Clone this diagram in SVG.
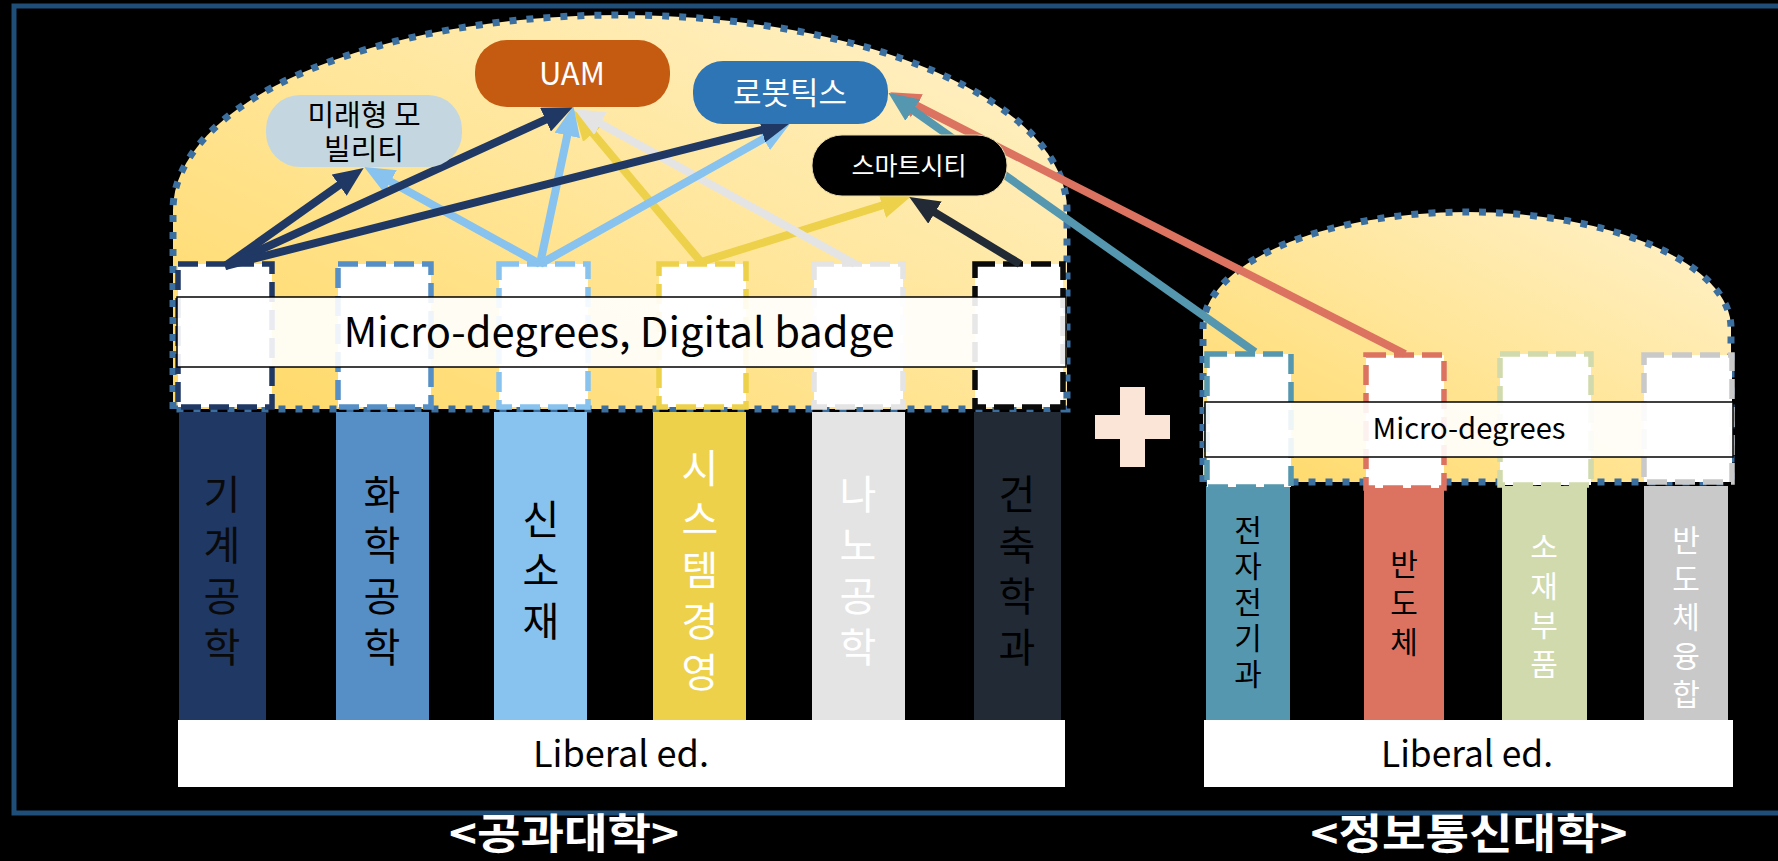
<svg xmlns="http://www.w3.org/2000/svg" width="1778" height="861" viewBox="0 0 1778 861">
<defs>
<linearGradient id="domeGrad" x1="0" y1="1" x2="1" y2="0">
<stop offset="0" stop-color="#FFD966"/>
<stop offset="1" stop-color="#FFF2CC"/>
</linearGradient>
<marker id="mNavy" markerUnits="userSpaceOnUse" markerWidth="30" markerHeight="26" refX="8" refY="13" orient="auto"><path d="M0,0 L30,13 L0,26 Z" fill="#203864"/></marker>
<marker id="mLB" markerUnits="userSpaceOnUse" markerWidth="30" markerHeight="26" refX="8" refY="13" orient="auto"><path d="M0,0 L30,13 L0,26 Z" fill="#88C2EE"/></marker>
<marker id="mYel" markerUnits="userSpaceOnUse" markerWidth="30" markerHeight="26" refX="8" refY="13" orient="auto"><path d="M0,0 L30,13 L0,26 Z" fill="#EDD14A"/></marker>
<marker id="mGray" markerUnits="userSpaceOnUse" markerWidth="30" markerHeight="26" refX="8" refY="13" orient="auto"><path d="M0,0 L30,13 L0,26 Z" fill="#E4E4E4"/></marker>
<marker id="mDark" markerUnits="userSpaceOnUse" markerWidth="30" markerHeight="26" refX="8" refY="13" orient="auto"><path d="M0,0 L30,13 L0,26 Z" fill="#222A35"/></marker>
<marker id="mTeal" markerUnits="userSpaceOnUse" markerWidth="30" markerHeight="26" refX="8" refY="13" orient="auto"><path d="M0,0 L30,13 L0,26 Z" fill="#5497AE"/></marker>
<marker id="mRed" markerUnits="userSpaceOnUse" markerWidth="30" markerHeight="26" refX="8" refY="13" orient="auto"><path d="M0,0 L30,13 L0,26 Z" fill="#DC7361"/></marker>
</defs>
<style>
text { font-family: "Noto Sans CJK KR", "Noto Sans", sans-serif; }
.dome { fill: url(#domeGrad); stroke: #3B6FA0; stroke-width: 7; stroke-dasharray: 7 10; }
.box { fill: #FFFFFF; stroke-width: 5.5; stroke-dasharray: 20 8; }
.band { fill: #FFFFFF; fill-opacity: 0.9; stroke: #000000; stroke-width: 1.5; }
.lib { fill: #FFFFFF; }
.vt { writing-mode: vertical-rl; text-anchor: middle; }
.ct { font-size: 40px; letter-spacing: 11px; }
.cr { font-size: 30px; }
.arr { fill: none; stroke-width: 8; }
.lbl { font-size: 36px; text-anchor: middle; fill: #000; }
.title { font-size: 42px; font-weight: bold; text-anchor: middle; fill: #FFFFFF; }
.node text { text-anchor: middle; }
</style>
<rect x="0" y="0" width="1778" height="861" fill="#000000"/>
<rect x="14" y="6" width="1800" height="807" fill="none" stroke="#1F4E79" stroke-width="5"/>

<g id="dome-left"><path class="dome" d="M173,409 V210 A447,195 0 0 1 1067,210 V409 Z"/></g>
<g id="dome-right"><path class="dome" d="M1203,482 V328 A264,116 0 0 1 1731,328 V482 Z"/></g>

<g id="col-mech">
<rect x="179" y="412" width="87" height="308" fill="#203864"/>
<rect class="box" x="178" y="264" width="94" height="143" stroke="#203864"/>
<text class="vt ct" x="222" y="575.5" fill="#0A0A0A">기계공학</text>
</g>
<g id="col-chem">
<rect x="336" y="412" width="93" height="308" fill="#568FC6"/>
<rect class="box" x="338" y="264" width="93" height="143" stroke="#568FC6"/>
<text class="vt ct" x="382" y="575.5" fill="#000">화학공학</text>
</g>
<g id="col-mat">
<rect x="494" y="412" width="93" height="308" fill="#88C2EE"/>
<rect class="box" x="499" y="264" width="89" height="143" stroke="#88C2EE"/>
<text class="vt ct" x="541" y="575" fill="#000">신소재</text>
</g>
<g id="col-sys">
<rect x="653" y="412" width="93" height="308" fill="#EDD14A"/>
<rect class="box" x="659" y="264" width="87" height="143" stroke="#EDD14A"/>
<text class="vt ct" x="700" y="575.5" fill="#FFFFFF">시스템경영</text>
</g>
<g id="col-nano">
<rect x="812" y="412" width="93" height="308" fill="#E4E4E4"/>
<rect class="box" x="814" y="264" width="89" height="143" stroke="#E4E4E4"/>
<text class="vt ct" x="858" y="575.5" fill="#FFFFFF">나노공학</text>
</g>
<g id="col-arch">
<rect x="974" y="412" width="87" height="308" fill="#222A35"/>
<rect class="box" x="975" y="264" width="88" height="143" stroke="#0A0A0A"/>
<text class="vt ct" x="1017" y="575.5" fill="#000">건축학과</text>
</g>

<g id="col-ee">
<rect x="1206" y="486" width="84" height="234" fill="#5497AE"/>
<rect class="box" x="1207" y="354" width="84" height="133" stroke="#5497AE"/>
<text class="vt cr" x="1248" y="605" letter-spacing="6" fill="#000">전자전기과</text>
</g>
<g id="col-semi">
<rect x="1364" y="486" width="80" height="234" fill="#DC7361"/>
<rect class="box" x="1366" y="355" width="78" height="133" stroke="#DC7361"/>
<text class="vt cr" x="1404" y="607.5" letter-spacing="9" fill="#000">반도체</text>
</g>
<g id="col-parts">
<rect x="1502" y="486" width="85" height="234" fill="#D0DAAC"/>
<rect class="box" x="1500" y="354" width="91" height="131" stroke="#D0DAAC"/>
<text class="vt cr" x="1544" y="609.5" letter-spacing="9" fill="#FFFFFF">소재부품</text>
</g>
<g id="col-semicon">
<rect x="1644" y="486" width="84" height="234" fill="#C9C9C9"/>
<rect class="box" x="1644" y="355" width="88" height="127" stroke="#C9C9C9"/>
<text class="vt cr" x="1686" y="621" letter-spacing="8.5" fill="#FFFFFF">반도체융합</text>
</g>

<g id="band-left">
<rect class="band" x="177" y="297" width="889" height="70"/>
<text x="619" y="347" font-size="41" text-anchor="middle" fill="#000" textLength="551" lengthAdjust="spacingAndGlyphs">Micro-degrees, Digital badge</text>
</g>
<g id="band-right">
<rect class="band" x="1205" y="402" width="528" height="55"/>
<text x="1469" y="439" font-size="29" text-anchor="middle" fill="#000" textLength="193" lengthAdjust="spacingAndGlyphs">Micro-degrees</text>
</g>

<g id="liberal-left">
<rect class="lib" x="178" y="720" width="887" height="67"/>
<text class="lbl" x="621" y="767" textLength="176" lengthAdjust="spacingAndGlyphs">Liberal ed.</text>
</g>
<g id="liberal-right">
<rect class="lib" x="1204" y="720" width="529" height="67"/>
<text class="lbl" x="1467" y="767" textLength="172" lengthAdjust="spacingAndGlyphs">Liberal ed.</text>
</g>

<g id="connectors">
<line class="arr" x1="701" y1="262" x2="587.9" y2="127.3" stroke="#EDD14A" marker-end="url(#mYel)"/>
<line class="arr" x1="701" y1="262" x2="889.9" y2="203" stroke="#EDD14A" marker-end="url(#mYel)"/>
<line class="arr" x1="855" y1="264" x2="593.5" y2="119.7" stroke="#E4E4E4" marker-end="url(#mGray)"/>
<line class="arr" x1="540" y1="264" x2="383.5" y2="177.7" stroke="#88C2EE" stroke-width="7" marker-end="url(#mLB)"/>
<line class="arr" x1="540" y1="264" x2="568.9" y2="127.6" stroke="#88C2EE" stroke-width="7" marker-end="url(#mLB)"/>
<line class="arr" x1="540" y1="264" x2="770.6" y2="134.8" stroke="#88C2EE" stroke-width="7" marker-end="url(#mLB)"/>
<line class="arr" x1="225" y1="266" x2="345.7" y2="180.6" stroke="#203864" marker-end="url(#mNavy)"/>
<line class="arr" x1="225" y1="266" x2="552.8" y2="116.3" stroke="#203864" marker-end="url(#mNavy)"/>
<line class="arr" x1="225" y1="266" x2="769.6" y2="127.9" stroke="#203864" marker-end="url(#mNavy)"/>
<line class="arr" x1="1020" y1="264" x2="928.1" y2="208.4" stroke="#222A35" marker-end="url(#mDark)"/>
<line class="arr" x1="1405" y1="354" x2="909.8" y2="102.1" stroke="#DC7361" marker-end="url(#mRed)"/>
<line class="arr" x1="1255" y1="352" x2="906.3" y2="105.5" stroke="#5497AE" marker-end="url(#mTeal)"/>
</g>

<g id="node-mobility" class="node">
<rect x="266" y="95" width="196" height="72" rx="34" fill="#C4D7E0"/>
<text x="364" y="126" font-size="29" fill="#000">미래형 모</text>
<text x="364" y="160" font-size="29" fill="#000">빌리티</text>
</g>
<g id="node-uam" class="node">
<rect x="475" y="40" width="195" height="67" rx="32" fill="#C55A11"/>
<text x="572" y="85" font-size="31" fill="#FFFFFF">UAM</text>
</g>
<g id="node-robotics" class="node">
<rect x="693" y="61" width="195" height="63" rx="30" fill="#2E75B6"/>
<text x="790" y="104" font-size="31" fill="#FFFFFF">로봇틱스</text>
</g>
<g id="node-smartcity" class="node">
<rect x="812" y="135" width="195" height="61" rx="30" fill="#000000" stroke="#E8D9A8" stroke-width="1"/>
<text x="909" y="175" font-size="25" fill="#FFFFFF">스마트시티</text>
</g>

<g id="plus">
<rect x="1120" y="387" width="25" height="80" fill="#FBE5D6"/>
<rect x="1095" y="415" width="75" height="24" fill="#FBE5D6"/>
</g>

<g id="titles">
<text class="title" x="564" y="849" textLength="230" lengthAdjust="spacingAndGlyphs">&lt;공과대학&gt;</text>
<text class="title" x="1469" y="849" textLength="317" lengthAdjust="spacingAndGlyphs">&lt;정보통신대학&gt;</text>
</g>
</svg>
